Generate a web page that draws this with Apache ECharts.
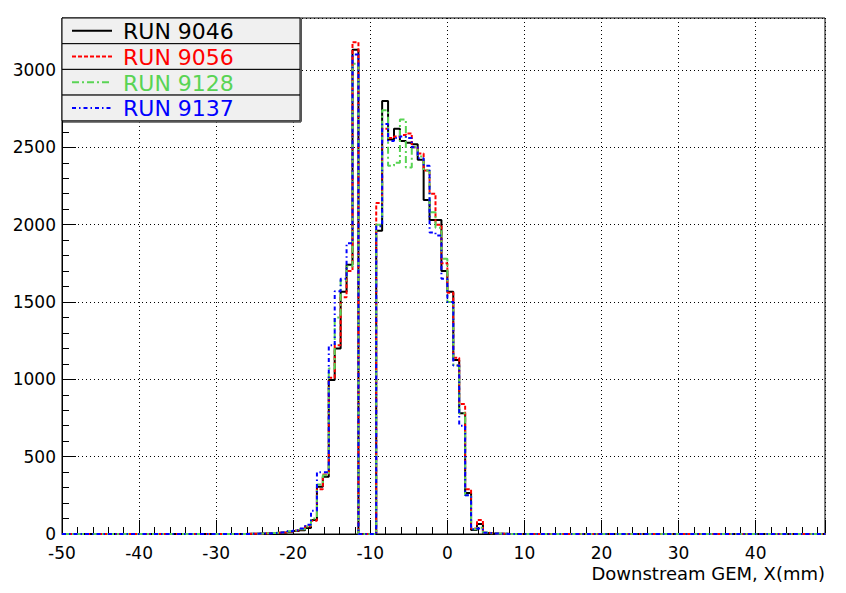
<!DOCTYPE html>
<html><head><meta charset="utf-8">
<script src="https://cdn.jsdelivr.net/npm/echarts@6/dist/echarts.min.js"></script>
<style>html,body{margin:0;padding:0;background:#fff}#c{width:846px;height:593px}</style>
</head><body><div id="c"></div>
<script>
// Histogram definition: 130 bins over [-50, 50]; counts given from bin index 30 to 75
const histLo = -50, histHi = 50, nBins = 130, firstBin = 30;
const xMin = -50, xMax = 49, yMin = 0, yMax = 3336;
const runNames = ['RUN 9046', 'RUN 9056', 'RUN 9128', 'RUN 9137'];
const runColors = ['#000000', '#ff0000', '#59d454', '#0000ff'];
const xTickLabels = [-50, -40, -30, -20, -10, 0, 10, 20, 30, 40];
const yTickLabels = [0, 500, 1000, 1500, 2000, 2500, 3000];
const xTitle = 'Downstream GEM, X(mm)';

// counts for bins 30..75
const run9046 = [0,1,2,3,4,6,8,10,15,20,25,38,90,306,370,995,1200,1566,1740,3130,0,0,0,1960,2800,2550,2620,2540,2530,2520,2420,2160,2030,2030,1700,1566,1125,780,265,26,65,6,3,2,1,0];
const run9056 = [0,1,2,3,5,7,9,12,16,22,30,50,85,290,385,1010,1220,1530,1700,3180,0,0,0,2140,2620,2560,2570,2580,2590,2500,2460,2350,2200,2000,1750,1560,1140,840,290,35,90,8,4,2,1,0];
const run9128 = [0,1,2,4,5,7,10,12,17,22,30,48,100,320,380,1070,1400,1640,1730,3040,0,0,0,2000,2740,2380,2400,2680,2370,2500,2440,2350,2080,1980,1780,1500,1090,780,250,30,40,10,5,2,1,0];
const run9137 = [0,1,2,3,4,6,9,12,18,25,35,60,150,400,400,1220,1570,1650,1880,3100,0,0,0,1990,2650,2540,2560,2570,2560,2500,2430,2380,1950,1930,1650,1500,1090,700,250,30,35,8,4,2,1,0];

const runData = [run9046, run9056, run9128, run9137];
const dashes = [null, [4, 2], [7, 3, 2, 3], [4, 3, 1.5, 3]];

function histPoints(counts) {
  const w = (histHi - histLo) / nBins;
  const pts = [[histLo, 0]];
  for (let i = 0; i < counts.length; i++) pts.push([histLo + (firstBin + i) * w, counts[i]]);
  pts.push([histLo + (firstBin + counts.length) * w, 0]);
  pts.push([histHi, 0]);
  return pts;
}

const chart = echarts.init(document.getElementById('c'), null, {renderer: 'svg'});
const font = 'DejaVu Sans';

const series = runData.map((d, i) => ({
  name: runNames[i],
  type: 'line',
  step: 'end',
  showSymbol: false,
  symbol: 'none',
  data: histPoints(d),
  lineStyle: {color: runColors[i], width: 2, type: dashes[i] || 'solid'},
  animation: false,
  z: 2 + i
}));

// legend graphic
const legendTop = 18, rowH = 25.7, legLeft = 62, legW = 238;
const graphics = [];
runNames.forEach((n, i) => {
  const y0 = legendTop + i * rowH;
  graphics.push({type: 'rect', shape: {x: legLeft, y: y0, width: legW, height: rowH},
    style: {fill: '#f0f0f0', stroke: '#000', lineWidth: 1}, z: 100});
  graphics.push({type: 'line', shape: {x1: 72, y1: y0 + rowH / 2, x2: 112, y2: y0 + rowH / 2},
    style: {stroke: runColors[i], lineWidth: 2, lineDash: dashes[i] || null}, z: 101});
  graphics.push({type: 'text', x: 123, y: y0 + rowH / 2 + 1,
    style: {text: n, fill: runColors[i], font: '22px "DejaVu Sans"', textVerticalAlign: 'middle', verticalAlign: 'middle'}, z: 101});
});
graphics.push({type: 'line', shape: {x1: legLeft + legW + 1, y1: legendTop + 1, x2: legLeft + legW + 1, y2: legendTop + 4 * rowH + 1},
  style: {stroke: '#555', lineWidth: 2}, z: 100});
graphics.push({type: 'line', shape: {x1: legLeft + 1, y1: legendTop + 4 * rowH + 1, x2: legLeft + legW + 1, y2: legendTop + 4 * rowH + 1},
  style: {stroke: '#555', lineWidth: 2}, z: 100});
// x axis title
graphics.push({type: 'text', x: 825, y: 564,
  style: {text: xTitle, fill: '#000', font: '18px "DejaVu Sans"', textAlign: 'right', align: 'right', textVerticalAlign: 'top', verticalAlign: 'top'}, z: 100});

chart.setOption({
  backgroundColor: '#ffffff',
  animation: false,
  grid: {left: 62, right: 21, top: 18, bottom: 59, show: true, borderColor: '#000', borderWidth: 1,
         containLabel: false, outerBoundsMode: 'none'},
  xAxis: {
    type: 'value', min: xMin, max: xMax, interval: 10,
    axisLine: {show: true, onZero: false, lineStyle: {color: '#000', width: 1}},
    axisTick: {show: true, inside: true, length: 14, lineStyle: {color: '#000'}},
    minorTick: {show: true, splitNumber: 5, length: 7, lineStyle: {color: '#000'}},
    splitLine: {show: true, lineStyle: {color: '#000', type: [1, 3], width: 1}},
    axisLabel: {fontFamily: font, fontSize: 17, lineHeight: 17, color: '#000', margin: 10,
      formatter: v => xTickLabels.indexOf(Math.round(v)) >= 0 && Math.abs(v - Math.round(v)) < 1e-6 ? String(Math.round(v)) : ''}
  },
  yAxis: {
    type: 'value', min: yMin, max: yMax, interval: 500,
    axisLine: {show: true, onZero: false, lineStyle: {color: '#000', width: 1}},
    axisTick: {show: true, inside: true, length: 14, lineStyle: {color: '#000'}},
    minorTick: {show: true, splitNumber: 5, length: 7, lineStyle: {color: '#000'}},
    splitLine: {show: true, lineStyle: {color: '#000', type: [1, 3], width: 1}},
    axisLabel: {fontFamily: font, fontSize: 17, lineHeight: 12, color: '#000', margin: 6,
      formatter: v => yTickLabels.indexOf(v) >= 0 ? String(v) : ''}
  },
  series: series,
  graphic: graphics
});
</script></body></html>
